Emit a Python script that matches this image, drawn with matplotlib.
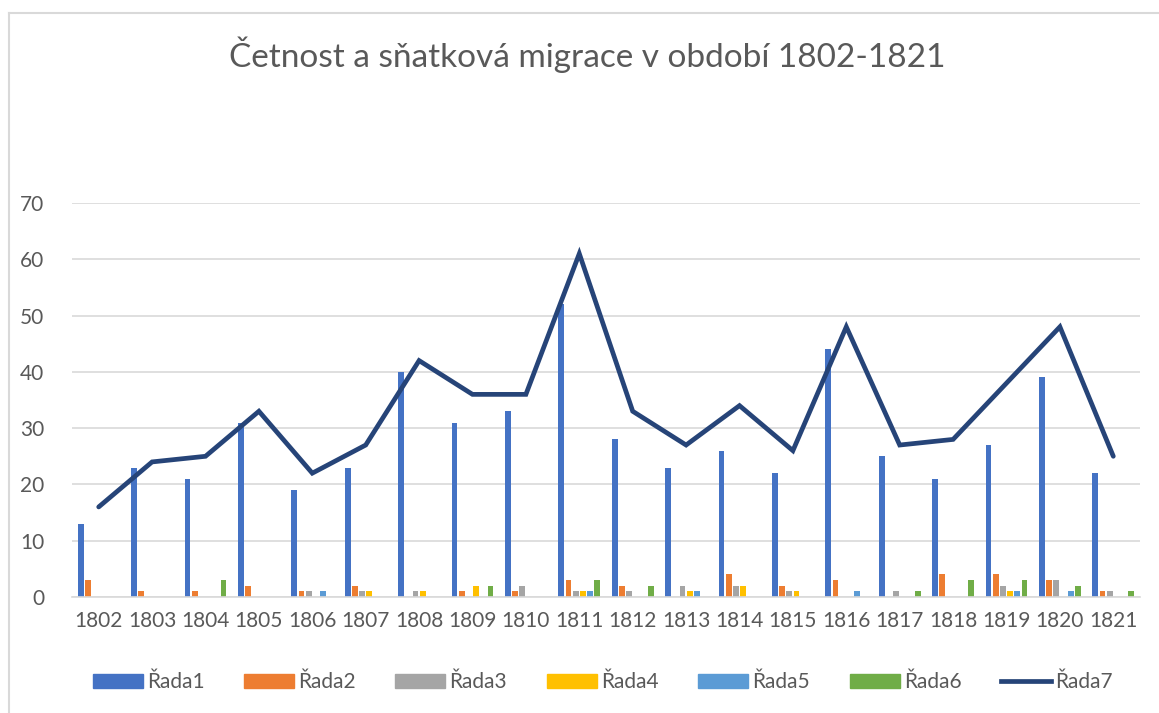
import numpy as np
from matplotlib import pyplot as plt
from matplotlib.patches import Patch
from matplotlib.lines import Line2D

# Data
years = [str(y) for y in range(1802, 1822)]
rada1 = [13, 23, 21, 31, 19, 23, 40, 31, 33, 52, 28, 23, 26, 22, 44, 25, 21, 27, 39, 22]
rada2 = [3, 1, 1, 2, 1, 2, 0, 1, 1, 3, 2, 0, 4, 2, 3, 0, 4, 4, 3, 1]
rada3 = [0, 0, 0, 0, 1, 1, 1, 0, 2, 1, 1, 2, 2, 1, 0, 1, 0, 2, 3, 1]
rada4 = [0, 0, 0, 0, 0, 1, 1, 2, 0, 1, 0, 1, 2, 1, 0, 0, 0, 1, 0, 0]
rada5 = [0, 0, 0, 0, 1, 0, 0, 0, 0, 1, 0, 1, 0, 0, 1, 0, 0, 1, 1, 0]
rada6 = [0, 0, 3, 0, 0, 0, 0, 2, 0, 3, 2, 0, 0, 0, 0, 1, 3, 3, 2, 1]
rada7 = [16, 24, 25, 33, 22, 27, 42, 36, 36, 61, 33, 27, 34, 26, 48, 27, 28, 38, 48, 25]

bar_series = [rada1, rada2, rada3, rada4, rada5, rada6]
bar_names = ["Řada1", "Řada2", "Řada3", "Řada4", "Řada5", "Řada6"]
bar_colors = ["#4472c4", "#ed7d31", "#a5a5a5", "#ffc000", "#5b9bd5", "#70ad47"]
line_color = "#264478"
text_color = "#595959"

plt.rcParams['font.family'] = ['Lato', 'DejaVu Sans']

fig = plt.figure(figsize=(11.59, 7.13), dpi=100)
ax = fig.add_axes([72 / 1159, 1 - 597 / 713, 1068 / 1159, 394 / 713])

x = np.arange(len(years))
step = 0.135
for i, (vals, name, col) in enumerate(zip(bar_series, bar_names, bar_colors)):
    ax.bar(x + (i - 2.5) * step, vals, width=0.11, color=col, zorder=2)

ax.plot(x, rada7, color=line_color, linewidth=3.4, zorder=3,
        solid_joinstyle='miter', solid_capstyle='round')

# Axes formatting
ax.set_xlim(-0.5, len(years) - 0.5)
ax.set_ylim(0, 70)
ax.set_yticks(range(0, 71, 10))
ax.set_xticks(x)
ax.set_xticklabels(years)
ax.yaxis.grid(True, color="#d9d9d9", linewidth=1.2, zorder=0)
ax.set_axisbelow(True)
for side in ['top', 'right', 'left']:
    ax.spines[side].set_visible(False)
ax.spines['bottom'].set_color("#d9d9d9")
ax.spines['bottom'].set_linewidth(1.2)
ax.tick_params(axis='both', length=0, labelsize=15, colors=text_color)
ax.tick_params(axis='y', pad=20)
ax.tick_params(axis='x', pad=10)

fig.text(0.507, 1 - 55 / 713, "Četnost a sňatková migrace v období 1802-1821",
         ha='center', va='center', fontsize=24, color=text_color)

# Legend
handles = [Patch(color=c, label=n) for c, n in zip(bar_colors, bar_names)]
handles.append(Line2D([0], [0], color=line_color, linewidth=3.4, label="Řada7"))
fig.legend(handles=handles, loc='center', bbox_to_anchor=(0.52, 1 - 682 / 713),
           ncol=7, frameon=False, fontsize=15, labelcolor=text_color,
           handlelength=2.4, handleheight=0.65, handletextpad=0.2, columnspacing=1.9)

# Chart border (left and top visible)
fig.add_artist(Line2D([8.5 / 1159, 8.5 / 1159], [0, 1 - 13 / 713],
                      transform=fig.transFigure, color="#d9d9d9", linewidth=1.5))
fig.add_artist(Line2D([8.5 / 1159, 1], [1 - 13 / 713, 1 - 13 / 713],
                      transform=fig.transFigure, color="#d9d9d9", linewidth=1.5))

fig.savefig("out.png", dpi=100)
